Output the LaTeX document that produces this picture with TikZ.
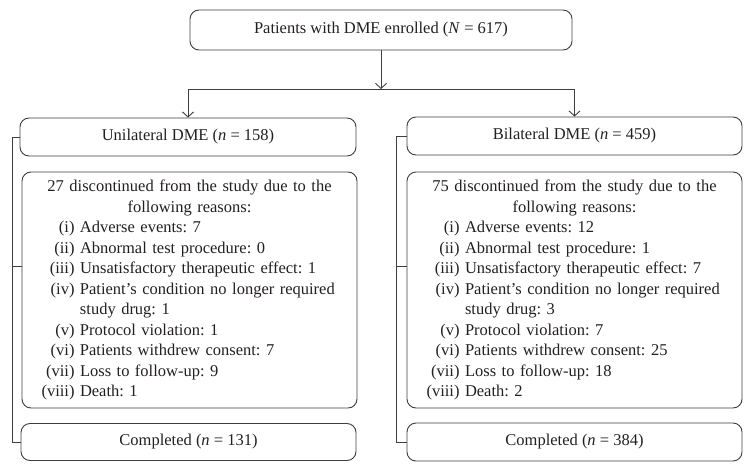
\documentclass[tikz,border=0pt]{standalone}
\usepackage{fontspec}
\setmainfont{Liberation Serif}
\usetikzlibrary{arrows.meta}
\frenchspacing

\definecolor{boxline}{RGB}{62,62,62}
\definecolor{boxtext}{RGB}{35,31,32}

% One reason line: label set flush right, text after it.
\newcommand{\reason}[2]{\par\noindent\makebox[58pt][r]{#1\ }#2}
\newcommand{\reasoncont}[1]{\par\noindent\hspace*{58pt}#1}

\begin{document}
\begin{tikzpicture}[x=1pt, y=-1pt, line width=0.9pt,
    font=\fontsize{16.5}{20.5}\selectfont,
    box/.style = {rectangle, draw=boxline, text=boxtext, rounded corners=9pt, inner sep=0pt},
    reasons/.style = {minimum height=236pt, text width=335pt, align=left},
    link/.style = {draw=boxline},
    arrowto/.style = {-{Straight Barb[length=5pt, width=11pt]}}]
  \useasboundingbox (0, 0) rectangle (752, 471);

  % Enrollment.
  \node at (381, 30) [box, minimum width=382pt, minimum height=40pt, name=Enrolled]
        {Patients with DME enrolled (\textit{N} = 617)};

  % Unilateral arm.
  \node at (188, 137) [box, minimum width=336pt, minimum height=38pt, name=Unilateral]
        {Unilateral DME (\textit{n} = 158)};
  \node at (189.5, 290) [box, reasons, name=UniReasons]
        {{\centering 27 discontinued from the study due to the\par following reasons:\par}
         \reason{(i)}{Adverse events: 7}
         \reason{(ii)}{Abnormal test procedure: 0}
         \reason{(iii)}{Unsatisfactory therapeutic effect: 1}
         \reason{(iv)}{Patient's condition no longer required}
         \reasoncont{study drug: 1}
         \reason{(v)}{Protocol violation: 1}
         \reason{(vi)}{Patients withdrew consent: 7}
         \reason{(vii)}{Loss to follow-up: 9}
         \reason{(viii)}{Death: 1}};
  \node at (188.5, 442) [box, minimum width=335pt, minimum height=37pt, name=UniCompleted]
        {Completed (\textit{n} = 131)};

  % Bilateral arm.
  \node at (574.5, 136) [box, minimum width=335pt, minimum height=38pt, name=Bilateral]
        {Bilateral DME (\textit{n} = 459)};
  \node at (574.5, 290) [box, reasons, name=BiReasons]
        {{\centering 75 discontinued from the study due to the\par following reasons:\par}
         \reason{(i)}{Adverse events: 12}
         \reason{(ii)}{Abnormal test procedure: 1}
         \reason{(iii)}{Unsatisfactory therapeutic effect: 7}
         \reason{(iv)}{Patient's condition no longer required}
         \reasoncont{study drug: 3}
         \reason{(v)}{Protocol violation: 7}
         \reason{(vi)}{Patients withdrew consent: 25}
         \reason{(vii)}{Loss to follow-up: 18}
         \reason{(viii)}{Death: 2}};
  \node at (574.5, 442) [box, minimum width=335pt, minimum height=38pt, name=BiCompleted]
        {Completed (\textit{n} = 384)};

  % Split and trunks.
  \coordinate (split) at (381, 89);
  \coordinate (UniTrunk) at (12, 0);
  \coordinate (BiTrunk) at (396, 0);

  \draw [link, arrowto] (Enrolled) to (split);
  \draw [link] (Unilateral.north |- split) -- (Bilateral.north |- split);
  \draw [link, arrowto] (Unilateral.north |- split) -- (Unilateral.north);
  \draw [link, arrowto] (Bilateral.north |- split) -- (Bilateral.north);

  % Brackets on the left of each arm.
  \draw [link] (Unilateral.west) -| (UniTrunk |- UniCompleted.west) -- (UniCompleted.west);
  \draw [link] (UniTrunk |- UniReasons.172) -- (UniReasons.172);
  \draw [link] (Bilateral.west) -| (BiTrunk |- BiCompleted.west) -- (BiCompleted.west);
  \draw [link] (BiTrunk |- BiReasons.172) -- (BiReasons.172);
\end{tikzpicture}
\end{document}
